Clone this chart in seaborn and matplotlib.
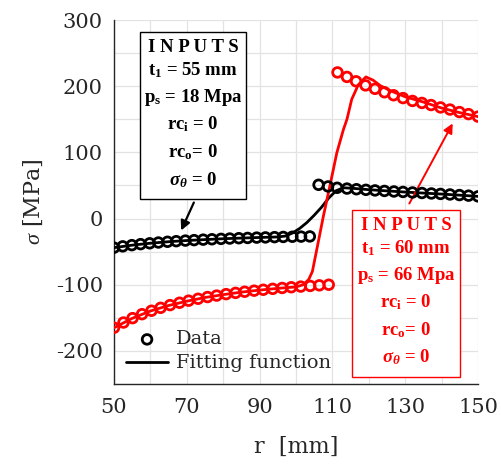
import numpy as np
import pandas as pd
import seaborn as sns
import matplotlib.pyplot as plt
from matplotlib.patches import Rectangle

# ---- measured stresses (MPa) vs radius (mm) ----
r_black_in = [50.0, 52.4, 54.9, 57.3, 59.8, 62.2, 64.7, 67.1, 69.6, 72.0, 74.5, 76.9,
              79.4, 81.8, 84.3, 86.7, 89.2, 91.6, 94.1, 96.5, 99.0, 101.4, 103.8]
s_black_in = [-44.0, -42.0, -40.2, -38.7, -37.4, -36.2, -35.1, -34.2, -33.3, -32.6, -31.9, -31.3,
              -30.7, -30.2, -29.7, -29.3, -28.8, -28.5, -28.1, -27.8, -27.5, -27.3, -27.0]
r_black_out = [106.2, 108.8, 111.3, 114.0, 116.6, 119.2, 121.7, 124.3, 126.9, 129.4, 132.0, 134.6,
               137.2, 139.7, 142.3, 144.9, 147.4, 150.0]
s_black_out = [51.0, 48.5, 46.5, 45.3, 44.3, 43.4, 42.5, 41.7, 40.9, 40.2, 39.4, 38.6,
               37.9, 37.2, 36.4, 35.5, 34.6, 33.5]

r_red_in = [50.0, 52.6, 55.1, 57.7, 60.3, 62.8, 65.4, 68.0, 70.5, 73.1, 75.7, 78.2,
            80.8, 83.4, 85.9, 88.5, 91.0, 93.6, 96.2, 98.7, 101.3, 103.9, 106.4, 109.0]
s_red_in = [-165.0, -157.1, -150.5, -144.5, -139.3, -134.9, -130.8, -127.2, -124.1, -121.2, -118.6, -116.4,
            -114.2, -112.3, -110.6, -109.0, -107.6, -106.2, -104.9, -103.8, -102.8, -101.8, -100.9, -100.0]
r_red_out = [111.4, 114.0, 116.5, 119.1, 121.7, 124.3, 126.8, 129.4, 132.0, 134.6, 137.1, 139.7,
             142.3, 144.9, 147.4, 150.0]
s_red_out = [220.8, 214.0, 207.4, 201.2, 196.0, 190.8, 186.3, 182.0, 177.7, 174.7, 171.5, 167.9,
             164.7, 160.9, 157.8, 154.0]

# ---- fitted curves ----
fit_black_r = [50, 55, 60, 65, 70, 75, 80, 85, 90, 95, 97, 99, 101, 103, 105, 107, 109, 111,
               113, 116, 120, 125, 130, 135, 140, 145, 150]
fit_black_s = [-44, -40.2, -37.3, -35.0, -33.2, -31.8, -30.5, -29.5, -28.6, -27.8, -26.5, -22, -15,
               -6, 5, 17, 31, 42, 46.5, 45.5, 43.6, 41.8, 40.0, 38.5, 37.0, 35.3, 33.5]
fit_red_r = [50, 55, 60, 65, 70, 75, 80, 85, 90, 95, 100, 102, 103.5, 104.5, 105.7, 107.5, 109.3,
             111.2, 113, 114, 115.3, 117.1, 119.2, 121.2, 123.1, 126, 130, 135, 140, 145, 150]
fit_red_s = [-165, -150.8, -139.7, -131.4, -124.9, -119.3, -115, -111.2, -108.1, -105.5, -103.3,
             -100, -92, -80, -47, 3, 49, 99, 134, 150, 180, 202, 214, 209, 201, 193, 184, 176,
             167, 160, 154]

x_ticks = [50, 70, 90, 110, 130, 150]
y_ticks = [-200, -100, 0, 100, 200, 300]

sns.set_theme(style="white")
plt.rcParams["font.family"] = ["DejaVu Serif"]
plt.rcParams["axes.unicode_minus"] = False
plt.rcParams["mathtext.fontset"] = "custom"
plt.rcParams["mathtext.rm"] = "Liberation Serif"
plt.rcParams["mathtext.it"] = "Liberation Serif:italic"
plt.rcParams["mathtext.bf"] = "Liberation Serif:bold"
plt.rcParams["mathtext.bfit"] = "Liberation Serif:bold:italic"

W, H = 501, 470
fig = plt.figure(figsize=(W / 100, H / 100), dpi=100)
ax = fig.add_axes([114 / W, 1 - 384 / H, (478 - 114) / W, (384 - 20) / H])


def fx(px):
    return px / W


def fy(py):
    return 1 - py / H


# fitted curves
sns.lineplot(x=fit_black_r, y=fit_black_s, sort=False, color="black", lw=2.0, ax=ax,
             label="Fitting function", zorder=3)
sns.lineplot(x=fit_red_r, y=fit_red_s, sort=False, color="red", lw=2.0, ax=ax, zorder=3)

# data points (open circles)
mk = dict(marker="o", s=48, facecolors="none", linewidth=2.0, zorder=4)
sns.scatterplot(x=r_black_in, y=s_black_in, edgecolor="black", ax=ax, label="Data", **mk)
sns.scatterplot(x=r_black_out, y=s_black_out, edgecolor="black", ax=ax, **mk)
sns.scatterplot(x=r_red_in, y=s_red_in, edgecolor="red", ax=ax, **mk)
sns.scatterplot(x=r_red_out, y=s_red_out, edgecolor="red", ax=ax, **mk)

ax.set_xlim(50, 150)
ax.set_ylim(-250, 300)
ax.set_xticks(x_ticks)
ax.set_yticks(y_ticks)
ax.set_xticks(np.arange(50, 151, 10), minor=True)
ax.set_yticks(np.arange(-250, 301, 50), minor=True)
ax.grid(True, which="both", color="#e3e3e3", lw=0.9)
ax.set_axisbelow(True)
for side in ("top", "right"):
    ax.spines[side].set_visible(False)
for side in ("left", "bottom"):
    ax.spines[side].set_color("#262626")
    ax.spines[side].set_linewidth(1.0)
ax.tick_params(which="both", direction="in", length=4, color="#262626",
               labelsize=15, labelcolor="#262626")
ax.tick_params(axis="x", pad=10)
ax.tick_params(axis="y", pad=8)

ax.set_xlabel("r  [mm]", fontsize=16, color="#262626", labelpad=14)
ax.set_ylabel(r"$\sigma$ [MPa]", fontsize=16, color="#262626", labelpad=8)

# legend
handles, labels = ax.get_legend_handles_labels()
order = [labels.index("Data"), labels.index("Fitting function")]
leg = ax.legend([handles[i] for i in order], [labels[i] for i in order],
                loc="lower left", bbox_to_anchor=(0.0, 0.0), frameon=False,
                fontsize=14, handlelength=2.2, handletextpad=0.4, labelspacing=0.3,
                borderaxespad=0.2)

# input boxes
def input_box(x0, y0, x1, y1, lines, color, ys):
    fig.patches.append(Rectangle((fx(x0), fy(y1)), fx(x1) - fx(x0), fy(y0) - fy(y1),
                                 transform=fig.transFigure, facecolor="white",
                                 edgecolor=color, lw=1.0, zorder=5))
    cx = fx((x0 + x1) / 2)
    for txt, yy in zip(lines, ys):
        fig.text(cx, fy(yy), txt, ha="center", va="center", fontsize=13.5,
                 fontweight="bold", family="Liberation Serif", color=color, zorder=6)


black_lines = ["I N P U T S", r"$\mathbf{t_1}$ = 55 mm", r"$\mathbf{p_s}$ = 18 Mpa",
               r"$\mathbf{rc_i}$ = 0", r"$\mathbf{rc_o}$= 0", r"$\mathbfit{\sigma_\theta}$ = 0"]
red_lines = ["I N P U T S", r"$\mathbf{t_1}$ = 60 mm", r"$\mathbf{p_s}$ = 66 Mpa",
             r"$\mathbf{rc_i}$ = 0", r"$\mathbf{rc_o}$= 0", r"$\mathbfit{\sigma_\theta}$ = 0"]
input_box(140, 32, 246, 199, black_lines, "black", [47, 70, 97, 124, 152, 180])
input_box(352, 210, 460, 377, red_lines, "red", [225, 248, 275, 302, 330, 357])

ax.annotate("", xy=(fx(180), fy(233)), xycoords="figure fraction",
            xytext=(fx(195), fy(200)), textcoords="figure fraction",
            arrowprops=dict(arrowstyle="-|>", color="black", lw=1.6, mutation_scale=14))
ax.annotate("", xy=(fx(454), fy(121)), xycoords="figure fraction",
            xytext=(fx(408), fy(206)), textcoords="figure fraction",
            arrowprops=dict(arrowstyle="-|>", color="red", lw=1.4, mutation_scale=14))

fig.savefig("out.png", dpi=100)
